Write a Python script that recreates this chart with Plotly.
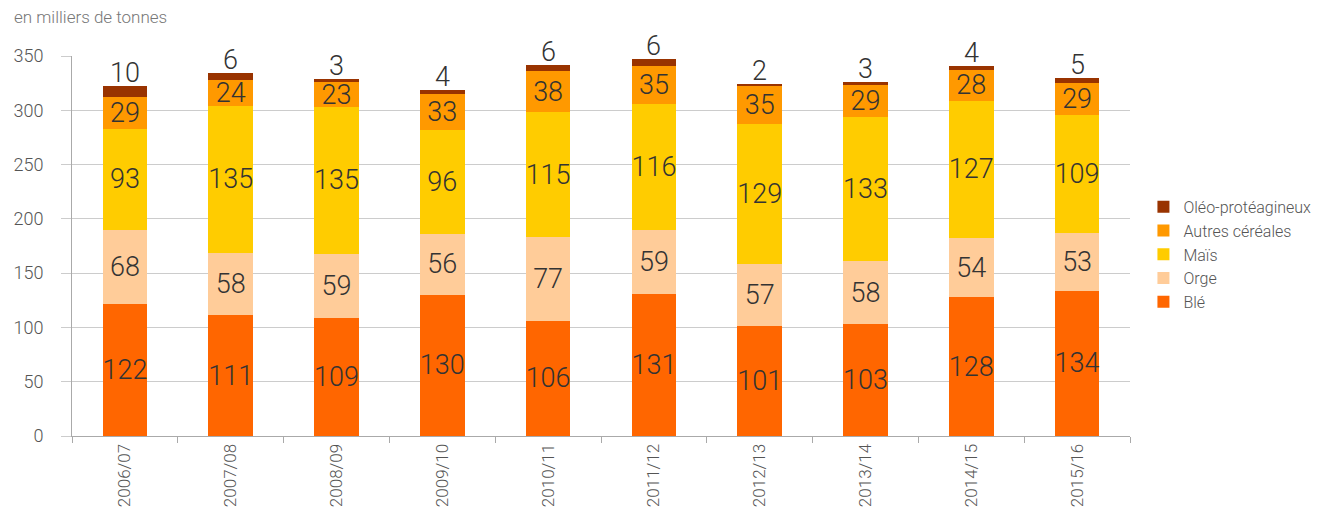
import plotly.graph_objects as go

campagnes = ["2006/07", "2007/08", "2008/09", "2009/10", "2010/11",
             "2011/12", "2012/13", "2013/14", "2014/15", "2015/16"]
ble = [122, 111, 109, 130, 106, 131, 101, 103, 128, 134]
orge = [68, 58, 59, 56, 77, 59, 57, 58, 54, 53]
mais = [93, 135, 135, 96, 115, 116, 129, 133, 127, 109]
autres = [29, 24, 23, 33, 38, 35, 35, 29, 28, 29]
oleo = [10, 6, 3, 4, 6, 6, 2, 3, 4, 5]

series = [
    ("Blé", ble, "#FF6600"),
    ("Orge", orge, "#FFCC99"),
    ("Maïs", mais, "#FFCC00"),
    ("Autres céréales", autres, "#FF9900"),
    ("Oléo-protéagineux", oleo, "#993300"),
]

FONT = "Roboto"
LABEL = dict(family=FONT, size=27, color="#333333", weight=300)
fig = go.Figure()
for name, vals, color in series:
    inside = name != "Oléo-protéagineux"
    fig.add_trace(go.Bar(
        x=campagnes, y=vals, name=name, marker_color=color,
        marker_line_width=0,
        text=[str(v) for v in vals] if inside else None,
        textposition="inside" if inside else "none",
        insidetextanchor="middle",
        textangle=0,
        textfont=LABEL,
        constraintext="none",
        hoverinfo="skip",
    ))

totals = [a + b + c + d + e for a, b, c, d, e in zip(ble, orge, mais, autres, oleo)]
for cat, tot, v in zip(campagnes, totals, oleo):
    fig.add_annotation(x=cat, y=tot, text=str(v), showarrow=False,
                       yanchor="bottom", yshift=-5, font=LABEL)

fig.add_annotation(xref="paper", yref="paper", x=-0.0567, y=1.1026,
                   xanchor="left", yanchor="middle", showarrow=False,
                   text="en milliers de tonnes",
                   font=dict(family=FONT, size=17, color="#777777", weight=300))

fig.update_layout(
    width=1321, height=503,
    margin=dict(l=64, r=199, t=48, b=75, autoexpand=False),
    barmode="stack", bargap=0.58,
    plot_bgcolor="white", paper_bgcolor="white",
    font=dict(family=FONT, color="#555555", weight=300),
    uniformtext=dict(mode="show", minsize=27),
    legend=dict(x=1.0127, y=0.648, xanchor="left", yanchor="top",
                traceorder="reversed",
                font=dict(family=FONT, size=16, color="#555555", weight=300),
                itemwidth=30, tracegroupgap=0),
    showlegend=True,
)
fig.update_yaxes(range=[0, 350], dtick=50, showgrid=True, gridcolor="#cccccc",
                 gridwidth=1, showline=True, linecolor="#aaaaaa", linewidth=1,
                 ticks="outside", ticklen=10, tickcolor="#cccccc",
                 ticklabelstandoff=14, automargin=False,
                 tickfont=dict(family=FONT, size=18, color="#555555", weight=300),
                 zeroline=False)
fig.update_xaxes(tickangle=-90, showline=True, linecolor="#aaaaaa", linewidth=1,
                 ticks="outside", tickson="boundaries", ticklen=6, tickcolor="#aaaaaa",
                 automargin=False,
                 tickfont=dict(family=FONT, size=17, color="#555555", weight=300))

fig.write_html("out.html")
